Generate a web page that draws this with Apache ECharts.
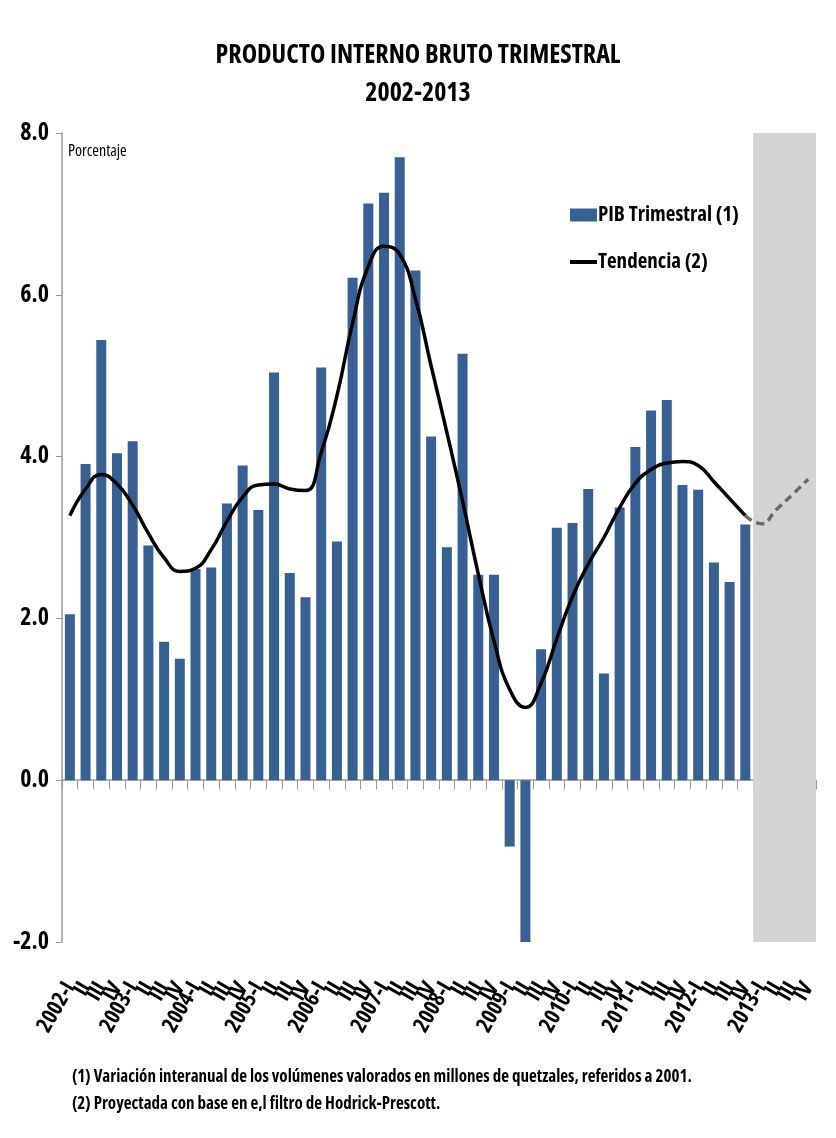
<!DOCTYPE html>
<html>
<head>
<meta charset="utf-8">
<script src="https://cdn.jsdelivr.net/npm/echarts@6/dist/echarts.min.js"></script>
<style>
html,body{margin:0;padding:0;background:#fff;}
#chart{width:836px;height:1138px;}
</style>
</head>
<body>
<div id="chart"></div>
<script>
const years = ['2002','2003','2004','2005','2006','2007','2008','2009','2010','2011','2012','2013'];
const quarterLabels = ['I','II','III','IV'];
const categories = [];
years.forEach(y => quarterLabels.forEach((q, i) => categories.push(i === 0 ? y + '-' + q : q)));
const categoryKeys = [];
years.forEach(y => quarterLabels.forEach(q => categoryKeys.push(y + '-' + q)));

const yTicks = [-2, 0, 2, 4, 6, 8];

const pibTrimestral = [
  2.05, 3.91, 5.44, 4.04,
  4.19, 2.90, 1.71, 1.50,
  2.61, 2.63, 3.42, 3.89,
  3.34, 5.04, 2.56, 2.26,
  5.10, 2.95, 6.21, 7.13,
  7.26, 7.70, 6.30, 4.25,
  2.88, 5.27, 2.54, 2.54,
  -0.82, -2.00, 1.62, 3.12,
  3.18, 3.60, 1.32, 3.37,
  4.12, 4.57, 4.70, 3.65,
  3.59, 2.69, 2.45, 3.16,
  null, null, null, null
];

const tendencia = [
  3.27, 3.60, 3.78, 3.66,
  3.40, 3.05, 2.75, 2.58,
  2.62, 2.85, 3.20, 3.50,
  3.65, 3.66, 3.60, 3.58,
  4.05, 4.75, 5.65, 6.35,
  6.60, 6.50, 5.95, 5.12,
  4.30, 3.45, 2.55, 1.72,
  1.12, 0.90, 1.20, 1.75,
  2.27, 2.67, 3.00, 3.37,
  3.67, 3.84, 3.92, 3.94,
  3.89, 3.69, 3.48, 3.27,
  null, null, null, null
];

const tendenciaProyectada = [
  null, null, null, null, null, null, null, null, null, null, null,
  null, null, null, null, null, null, null, null, null, null, null,
  null, null, null, null, null, null, null, null, null, null, null,
  null, null, null, null, null, null, null, null, null, null, 3.27,
  3.17, 3.35, 3.53, 3.72
];

const projectionStart = '2013-I';
const projectionEnd = '2013-IV';

const FONT = "'Open Sans','Roboto Condensed','DejaVu Sans Condensed',sans-serif";
const BOLD = 'bold condensed';
const REG = 'normal condensed';

const chart = echarts.init(document.getElementById('chart'));
chart.setOption({
  backgroundColor: '#ffffff',
  animation: false,
  title: {
    text: 'PRODUCTO INTERNO BRUTO TRIMESTRAL\n2002-2013',
    left: 'center',
    top: 32,
    textStyle: { fontFamily: FONT, fontWeight: BOLD, fontSize: 26, color: '#000', lineHeight: 38 }
  },
  legend: {
    orient: 'vertical',
    left: 565,
    top: 197,
    itemGap: 21,
    itemWidth: 27,
    itemHeight: 13,
    textStyle: { fontFamily: FONT, fontWeight: BOLD, fontSize: 21, lineHeight: 26, color: '#000', padding: [0, 0, 0, -4] },
    data: [
      { name: 'PIB Trimestral (1)', icon: 'rect' },
      { name: 'Tendencia (2)', icon: 'path://M0,0 L27,0 L27,4 L0,4 Z' }
    ]
  },
  graphic: [
    { type: 'text', left: 68, top: 143, style: { text: 'Porcentaje', fontFamily: FONT, fontWeight: REG, fontSize: 16, fill: '#000' } },
    { type: 'text', left: 72, top: 1069, style: { text: '(1) Variación interanual de los volúmenes valorados en millones de quetzales, referidos a 2001.', fontFamily: FONT, fontWeight: BOLD, fontSize: 17, fill: '#000' } },
    { type: 'text', left: 72, top: 1096, style: { text: '(2) Proyectada con base en e,l filtro de Hodrick-Prescott.', fontFamily: FONT, fontWeight: BOLD, fontSize: 17, fill: '#000' } }
  ],
  grid: { left: 62, right: 20, top: 133, bottom: 196, containLabel: false },
  xAxis: [
    {
      type: 'category',
      data: categoryKeys,
      axisLine: { onZero: true, lineStyle: { color: '#999', width: 1.5 } },
      axisTick: { show: true, interval: 0, length: 9, lineStyle: { color: '#999' } },
      axisLabel: { show: false }
    },
    {
      type: 'category',
      data: categories,
      position: 'bottom',
      axisLine: { show: false, onZero: false },
      axisTick: { show: false },
      axisLabel: {
        show: true, interval: 0, rotate: 60, margin: 42,
        fontFamily: FONT, fontWeight: BOLD, fontSize: 22, color: '#000'
      }
    }
  ],
  yAxis: {
    type: 'value',
    min: -2, max: 8, interval: 2,
    splitLine: { show: false },
    axisLine: { show: true, lineStyle: { color: '#999', width: 1.5 } },
    axisTick: { show: true, length: 6, lineStyle: { color: '#999' } },
    axisLabel: {
      margin: 13,
      fontFamily: FONT, fontWeight: BOLD, fontSize: 24, color: '#000',
      formatter: v => yTicks.includes(v) ? v.toFixed(1) : ''
    }
  },
  series: [
    {
      name: 'PIB Trimestral (1)',
      type: 'bar',
      xAxisIndex: 0,
      data: pibTrimestral,
      barWidth: 10,
      itemStyle: { color: '#386093' },
      z: 3,
      markArea: {
        silent: true,
        itemStyle: { color: '#d4d4d4' },
        data: [[{ xAxis: projectionStart }, { xAxis: projectionEnd }]]
      }
    },
    {
      name: 'Tendencia (2)',
      type: 'line',
      xAxisIndex: 0,
      data: tendencia,
      smooth: true,
      symbol: 'none',
      lineStyle: { color: '#000', width: 3.5 },
      itemStyle: { color: '#000' },
      z: 4
    },
    {
      name: 'Proyección',
      type: 'line',
      xAxisIndex: 0,
      data: tendenciaProyectada,
      smooth: true,
      symbol: 'none',
      lineStyle: { color: '#6a6a6a', width: 3.5, type: [8, 5] },
      z: 4
    }
  ]
});
</script>
</body>
</html>
